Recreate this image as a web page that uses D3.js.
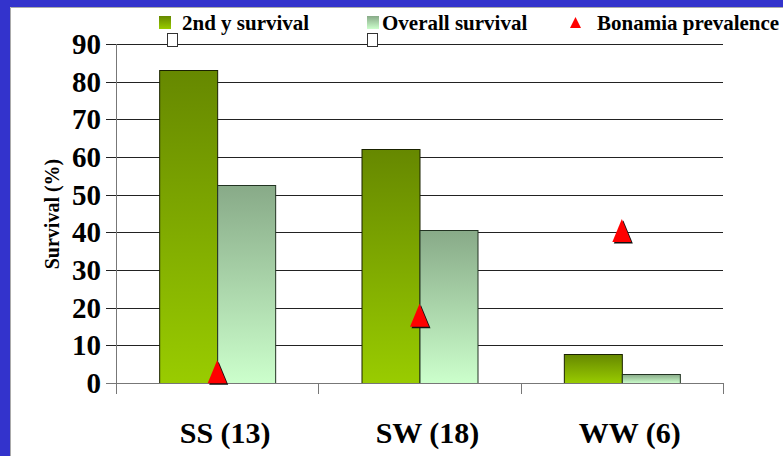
<!DOCTYPE html>
<html>
<head>
<meta charset="utf-8">
<script src="https://cdn.jsdelivr.net/npm/d3@7"></script>
<style>
  html, body { margin: 0; padding: 0; background: #fff; }
  svg { display: block; }
</style>
</head>
<body>
<div id="chartContainer"></div>
<script>
var categories = ["SS (13)", "SW (18)", "WW (6)"]
var secondYear = [83, 62, 7.7]
var overall = [52.5, 40.5, 2.5]
var bonamia = [3, 18, 40.5]
var yTicks = [0, 10, 20, 30, 40, 50, 60, 70, 80, 90]
var seriesNames = ["2nd y survival", "Overall survival", "Bonamia prevalence"]

var width = 783, height = 456
var serif = "Liberation Serif"

var svg = d3.select('#chartContainer').append('svg')
    .attr('width', width)
    .attr('height', height)

var defs = svg.append('defs')

function addGradient(id, top, bottom) {
    var g = defs.append('linearGradient')
        .attr('id', id)
        .attr('x1', 0).attr('y1', 0).attr('x2', 0).attr('y2', 1)
    g.append('stop').attr('offset', '0%').attr('stop-color', top)
    g.append('stop').attr('offset', '100%').attr('stop-color', bottom)
}
addGradient('gradSecond', '#668800', '#99cc00')
addGradient('gradOverall', '#88aa88', '#ccffcc')

// blue frame
svg.append('rect').attr('x', 0).attr('y', 0).attr('width', width).attr('height', 7).style('fill', '#3333cc')
svg.append('rect').attr('x', 0).attr('y', 0).attr('width', 10).attr('height', height).style('fill', '#3333cc')
svg.append('path').attr('d', 'M10.5,' + height + 'V7.5H' + width)
    .style('fill', 'none').style('stroke', '#aaaaaa')

var xScale = d3.scaleBand()
    .domain(categories)
    .range([116, 723])

var yScale = d3.scaleLinear()
    .domain([0, 90])
    .range([383, 44])

var groupWidth = 116
var inner = d3.scaleBand()
    .domain(["second", "overall"])
    .range([0, groupWidth])

var data = categories.map(function(c, i) {
    return { cat: c, second: secondYear[i], overall: overall[i], bonamia: bonamia[i] }
})

// grid lines
svg.selectAll('.grid')
    .data(yTicks.filter(function(d) { return d > 0 }))
    .enter()
    .append('line')
    .attr('class', 'grid')
    .attr('x1', 106)
    .attr('x2', 723)
    .attr('y1', function(d) { return Math.round(yScale(d)) + 0.5 })
    .attr('y2', function(d) { return Math.round(yScale(d)) + 0.5 })
    .style('stroke', '#222')
    .style('stroke-width', 1)

// y tick labels
svg.selectAll('.ylab')
    .data(yTicks)
    .enter()
    .append('text')
    .attr('class', 'ylab')
    .attr('x', 101)
    .attr('y', function(d) { return yScale(d) + 10 })
    .attr('text-anchor', 'end')
    .attr('font-family', serif)
    .attr('font-weight', 'bold')
    .attr('font-size', 29)
    .text(function(d) { return d })

// bars
var groups = svg.selectAll('.group')
    .data(data)
    .enter()
    .append('g')
    .attr('class', 'group')
    .attr('transform', function(d) {
        return 'translate(' + (xScale(d.cat) + (xScale.bandwidth() - groupWidth) / 2) + ',0)'
    })

groups.append('rect')
    .attr('x', inner('second') + 0.5)
    .attr('y', function(d) { return Math.round(yScale(d.second)) + 0.5 })
    .attr('width', inner.bandwidth())
    .attr('height', function(d) { return yScale(0) - Math.round(yScale(d.second)) })
    .style('fill', 'url(#gradSecond)')
    .style('stroke', '#1a2200')
    .style('stroke-width', 1)

groups.append('rect')
    .attr('x', inner('overall') + 0.5)
    .attr('y', function(d) { return Math.round(yScale(d.overall)) + 0.5 })
    .attr('width', inner.bandwidth())
    .attr('height', function(d) { return yScale(0) - Math.round(yScale(d.overall)) })
    .style('fill', 'url(#gradOverall)')
    .style('stroke', '#223322')
    .style('stroke-width', 1)

// axes
svg.append('line')
    .attr('x1', 106).attr('x2', 723)
    .attr('y1', yScale(0) + 0.5).attr('y2', yScale(0) + 0.5)
    .style('stroke', '#777').style('stroke-width', 1)
svg.append('line')
    .attr('x1', 116.5).attr('x2', 116.5)
    .attr('y1', yScale(90)).attr('y2', 394)
    .style('stroke', '#777').style('stroke-width', 1)
svg.selectAll('.xtick')
    .data(categories)
    .enter()
    .append('line')
    .attr('class', 'xtick')
    .attr('x1', function(d) { return Math.round(xScale(d) + xScale.bandwidth()) + 0.5 })
    .attr('x2', function(d) { return Math.round(xScale(d) + xScale.bandwidth()) + 0.5 })
    .attr('y1', yScale(0))
    .attr('y2', 394)
    .style('stroke', '#777').style('stroke-width', 1)

// triangles
var triW = 19, triH = 23
function triPath(cx, cy) {
    return 'M' + cx + ',' + (cy - triH / 2) + 'L' + (cx + triW / 2) + ',' + (cy + triH / 2) + 'L' + (cx - triW / 2) + ',' + (cy + triH / 2) + 'Z'
}
svg.selectAll('.triShadow')
    .data(data)
    .enter()
    .append('path')
    .attr('class', 'triShadow')
    .attr('d', function(d) { return triPath(xScale(d.cat) + xScale.bandwidth() / 2 + 1.5, yScale(d.bonamia) + 1.5) })
    .style('fill', '#111')
svg.selectAll('.tri')
    .data(data)
    .enter()
    .append('path')
    .attr('class', 'tri')
    .attr('d', function(d) { return triPath(xScale(d.cat) + xScale.bandwidth() / 2, yScale(d.bonamia)) })
    .style('fill', '#ff0000')

// category labels
svg.selectAll('.xlab')
    .data(categories)
    .enter()
    .append('text')
    .attr('class', 'xlab')
    .attr('x', function(d) { return xScale(d) + xScale.bandwidth() / 2 + 8 })
    .attr('y', 443)
    .attr('text-anchor', 'middle')
    .attr('font-family', serif)
    .attr('font-weight', 'bold')
    .attr('font-size', 30)
    .text(function(d) { return d })

// y title
svg.append('text')
    .attr('transform', 'translate(59,214) rotate(-90)')
    .attr('text-anchor', 'middle')
    .attr('font-family', serif)
    .attr('font-weight', 'bold')
    .attr('font-size', 20)
    .text('Survival (%)')

// legend
var legendX = [159, 367, 570]
var textX = [182, 382, 597]
svg.append('rect').attr('x', legendX[0]).attr('y', 16).attr('width', 12).attr('height', 13)
    .style('fill', 'url(#gradSecond)')
svg.append('rect').attr('x', legendX[1]).attr('y', 16).attr('width', 12).attr('height', 13)
    .style('fill', 'url(#gradOverall)')
svg.append('path')
    .attr('d', 'M' + (legendX[2] + 5.5) + ',17L' + (legendX[2] + 11) + ',28L' + legendX[2] + ',28Z')
    .style('fill', '#ff0000')
svg.selectAll('.legText')
    .data(seriesNames)
    .enter()
    .append('text')
    .attr('class', 'legText')
    .attr('x', function(d, i) { return textX[i] })
    .attr('y', 30)
    .attr('font-family', serif)
    .attr('font-weight', 'bold')
    .attr('font-size', 21)
    .text(function(d) { return d })

// empty marker boxes under the legend
svg.selectAll('.box')
    .data([legendX[0] + 8, legendX[1]])
    .enter()
    .append('rect')
    .attr('class', 'box')
    .attr('x', function(d) { return d + 0.5 })
    .attr('y', 33.5)
    .attr('width', 10)
    .attr('height', 13)
    .style('fill', '#fff')
    .style('stroke', '#333')
</script>
</body>
</html>
